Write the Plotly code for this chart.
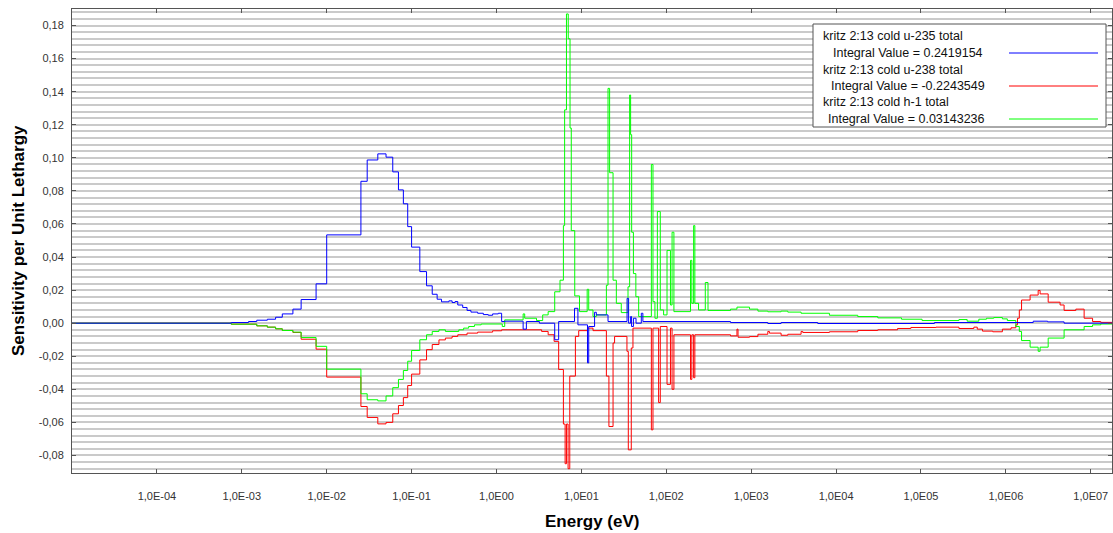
import plotly.graph_objects as go

# Sensitivity per unit lethargy, step data on group energy boundaries (eV)
u235_edges = [1e-5, 7.5e-4, 1.2e-3, 1.5e-3, 2e-3, 2.5e-3, 3e-3, 4e-3, 5e-3, 7.5e-3,
              1e-2, 2.53e-2, 3e-2, 4e-2, 5e-2, 6e-2, 7e-2, 8e-2, 9e-2, 0.1,
              0.125, 0.15, 0.175, 0.2, 0.225, 0.275, 0.3, 0.325, 0.35, 0.4,
              0.45, 0.5, 0.6, 0.7, 0.8, 0.9, 1.05, 1.15, 1.25, 2.06,
              2.25, 3.2, 4.85, 5.4, 8.3, 9.1, 11.8, 12.2, 14.3, 15.0,
              20.6, 34.5, 36.0, 38.0, 39.0, 41.0, 44.0, 50.8, 53.0, 571,
              1570, 2250, 6080, 1.44e5, 2.1e6, 3.1e6, 4.85e6, 2e7]
u235_vals = [0.0, 0.0004, 0.001, 0.0018, 0.0024, 0.0036, 0.0056, 0.0085, 0.0143, 0.0238,
             0.0534, 0.0858, 0.0987, 0.1024, 0.1004, 0.0915, 0.0806, 0.0722, 0.0584, 0.046,
             0.0312, 0.0226, 0.0175, 0.0145, 0.0129, 0.0135, 0.0125, 0.0131, 0.011, 0.0095,
             0.0077, 0.0067, 0.006, 0.0052, 0.0048, 0.0056, 0.006, 0.001, 0.0012, -0.0036,
             0.001, 0.0, -0.01, 0.001, 0.009, -0.001, -0.024, -0.002, 0.0066, 0.005,
             0.001, 0.015, 0.0, 0.004, -0.002, 0.003, 0.0, 0.006, 0.001, 0.0004,
             -0.0002, 0.0004, -0.0002, 0.0004, 0.0012, 0.0008, 0.0, 0.0]

u238_edges = [1e-5, 7.5e-4, 1.5e-3, 2e-3, 2.5e-3, 3e-3, 4e-3, 5e-3, 7.5e-3, 1e-2,
              2.53e-2, 3e-2, 4e-2, 5e-2, 6e-2, 7e-2, 8e-2, 9e-2, 0.1, 0.125,
              0.15, 0.175, 0.21, 0.25, 0.3, 0.35, 0.45, 0.6, 0.9, 1.15,
              3.4, 4.06, 4.77, 5.4, 6.14, 6.43, 6.67, 6.97, 7.3, 8.5,
              9.3, 11.8, 13.7, 19.7, 21.1, 23.6, 24.6, 34.4, 35.7, 38.7,
              40.5, 66.7, 69.7, 81.2, 85.0, 102, 112, 117, 123, 193,
              200, 210, 217, 571, 680, 700, 955, 1200, 1570, 1640,
              2250, 2700, 3870, 4050, 8350, 1.8e4, 3.1e4, 5.3e4, 7.6e4, 1.5e5,
              2.8e5, 4.2e5, 4.6e5, 5.3e5, 7e5, 9.1e5, 1.15e6, 1.31e6, 1.37e6, 1.44e6,
              1.53e6, 1.93e6, 2.4e6, 2.53e6, 3.15e6, 4.35e6, 4.85e6, 6.67e6, 8.35e6, 1.05e7,
              1.31e7, 2e7]
u238_vals = [0.0, -0.0006, -0.0016, -0.0024, -0.0034, -0.0044, -0.0056, -0.0097, -0.0157, -0.0326,
             -0.0504, -0.057, -0.0609, -0.060, -0.0548, -0.0498, -0.045, -0.0377, -0.0308, -0.0222,
             -0.016, -0.0129, -0.0101, -0.009, -0.008, -0.007, -0.006, -0.0054, -0.0046, -0.004,
             -0.005, -0.007, -0.011, -0.028, -0.061, -0.085, -0.061, -0.088, -0.032, -0.008,
             -0.0045, -0.003, -0.0045, -0.032, -0.0625, -0.012, -0.008, -0.017, -0.0766, -0.015,
             -0.003, -0.0645, -0.003, -0.048, -0.002, -0.037, -0.003, -0.040, -0.007, -0.034,
             -0.007, -0.033, -0.007, -0.0077, -0.0036, -0.0085, -0.0081, -0.0067, -0.005, -0.006,
             -0.0073, -0.0067, -0.005, -0.0056, -0.0052, -0.0044, -0.004, -0.0032, -0.0026, -0.0024,
             -0.0032, -0.0024, -0.0036, -0.0048, -0.0052, -0.0036, -0.0028, -0.001, 0.003, 0.008,
             0.014, 0.017, 0.0198, 0.0177, 0.0127, 0.011, 0.0077, 0.0085, 0.003, 0.001,
             0.0005, 0.0]

h1_edges = [1e-5, 7.5e-4, 1.5e-3, 2e-3, 2.5e-3, 3e-3, 4e-3, 5e-3, 7.5e-3, 1e-2,
            2.53e-2, 3e-2, 4e-2, 5e-2, 6e-2, 7e-2, 8e-2, 9e-2, 0.1, 0.125,
            0.15, 0.175, 0.21, 0.25, 0.36, 0.41, 0.47, 0.55, 0.66, 1.17,
            1.25, 2.06, 2.15, 2.96, 3.5, 4.06, 4.85, 5.6, 6.14, 6.35,
            6.67, 7.0, 7.35, 7.6, 8.35, 9.5, 11.7, 12.2, 13.7, 15.0,
            19.7, 20.6, 21.5, 23.6, 25.8, 29.5, 35.4, 37.0, 38.0, 39.1,
            41.0, 43.8, 47.3, 66.7, 69.7, 73.5, 78.5, 85.0, 93.0, 102,
            112, 117, 123, 193, 200, 210, 217, 240, 288, 310,
            571, 680, 955, 1200, 1570, 2250, 2700, 3870, 8350, 1.8e4,
            3.1e4, 5.9e4, 1.03e5, 2.8e5, 3.5e5, 4.8e5, 5.9e5, 7.2e5, 9.1e5, 1.04e6,
            1.31e6, 1.44e6, 1.53e6, 1.93e6, 2.4e6, 2.53e6, 3.15e6, 4.85e6, 8.35e6, 1.05e7,
            1.31e7, 2e7]
h1_vals = [0.0, -0.0006, -0.0016, -0.0024, -0.0034, -0.0044, -0.0054, -0.0087, -0.014, -0.0278,
           -0.0427, -0.0463, -0.047, -0.044, -0.039, -0.034, -0.0286, -0.023, -0.0165, -0.010,
           -0.007, -0.005, -0.004, -0.005, -0.004, -0.003, -0.002, -0.001, -0.0005, -0.002,
           0.002, 0.0056, 0.003, 0.0016, 0.005, 0.007, 0.019, 0.026, 0.059, 0.129,
           0.187, 0.172, 0.118, 0.056, 0.0165, 0.007, 0.0205, 0.008, 0.004, 0.005,
           0.023, 0.142, 0.091, 0.026, 0.012, 0.0064, 0.022, 0.138, 0.114, 0.055,
           0.030, 0.016, 0.004, 0.096, 0.013, 0.003, 0.0675, 0.008, 0.005, 0.044,
           0.011, 0.055, 0.007, 0.038, 0.012, 0.059, 0.012, 0.008, 0.0246, 0.0077,
           0.0085, 0.0097, 0.0085, 0.0073, 0.0069, 0.0073, 0.0067, 0.006, 0.0048, 0.004,
           0.0032, 0.0024, 0.0016, 0.0022, 0.0012, 0.0024, 0.003, 0.0034, 0.0026, 0.0016,
           -0.002, -0.005, -0.0105, -0.0145, -0.017, -0.0145, -0.009, -0.004, -0.002, -0.001,
           -0.0005, 0.0]

series_names = ["kritz 2:13 cold u-235 total",
                "kritz 2:13 cold u-238 total",
                "kritz 2:13 cold h-1 total"]
integral_values = ["0.2419154", "-0.2243549", "0.03143236"]
series_colors = ["#0000ff", "#ff0000", "#00ff00"]

x_tick_vals = [1e-4, 1e-3, 1e-2, 1e-1, 1e0, 1e1, 1e2, 1e3, 1e4, 1e5, 1e6, 1e7]
x_tick_text = ["1,0E-04", "1,0E-03", "1,0E-02", "1,0E-01", "1,0E00", "1,0E01",
               "1,0E02", "1,0E03", "1,0E04", "1,0E05", "1,0E06", "1,0E07"]
y_tick_vals = [-0.08, -0.06, -0.04, -0.02, 0.0, 0.02, 0.04, 0.06, 0.08,
               0.10, 0.12, 0.14, 0.16, 0.18]
y_tick_text = ["-0,08", "-0,06", "-0,04", "-0,02", "0,00", "0,02", "0,04", "0,06",
               "0,08", "0,10", "0,12", "0,14", "0,16", "0,18"]

FONT = "Liberation Sans, Arial, sans-serif"
W, H = 1113, 533
L, R, T, B = 72, 1112, 9, 473   # plot area in pixels


def px(x):
    return (x - L) / (R - L)


def py(y):
    return (B - y) / (B - T)


fig = go.Figure()

series = [(u235_edges, u235_vals), (u238_edges, u238_vals), (h1_edges, h1_vals)]
# draw u-238, then h-1, then u-235 on top
for idx in (1, 2, 0):
    edges, vals = series[idx]
    fig.add_trace(go.Scatter(
        x=edges, y=vals, mode="lines", line_shape="hv",
        line=dict(color=series_colors[idx], width=1),
        name=series_names[idx], showlegend=False, hoverinfo="skip"))

shapes = []
annotations = []

# legend box with sample lines on the right
shapes.append(dict(type="rect", xref="paper", yref="paper",
                   x0=px(813), x1=px(1106), y0=py(127), y1=py(24),
                   line=dict(color="#555555", width=1), fillcolor="white", layer="above"))
row_y = [36, 53, 69.5, 86, 102.5, 119]
value_x = [831, 829, 826]
for i, name in enumerate(series_names):
    annotations.append(dict(xref="paper", yref="paper", x=px(821), y=py(row_y[2 * i]),
                            xanchor="left", yanchor="middle", showarrow=False,
                            text=name, font=dict(family=FONT, size=12.5, color="#111111")))
    annotations.append(dict(xref="paper", yref="paper", x=px(value_x[i]), y=py(row_y[2 * i + 1]),
                            xanchor="left", yanchor="middle", showarrow=False,
                            text="Integral Value = " + integral_values[i],
                            font=dict(family=FONT, size=12.5, color="#111111")))
    shapes.append(dict(type="line", xref="paper", yref="paper",
                       x0=px(1009), x1=px(1098), y0=py(row_y[2 * i + 1]), y1=py(row_y[2 * i + 1]),
                       line=dict(color=series_colors[i], width=1), layer="above"))

# axis titles
annotations.append(dict(xref="paper", yref="paper", x=0.5, y=py(521),
                        xanchor="center", yanchor="middle", showarrow=False,
                        text="<b>Energy (eV)</b>",
                        font=dict(family=FONT, size=17, color="#000000")))
annotations.append(dict(xref="paper", yref="paper", x=px(18), y=0.5,
                        xanchor="center", yanchor="middle", showarrow=False, textangle=-90,
                        text="<b>Sensitivity per Unit Lethargy</b>",
                        font=dict(family=FONT, size=17, color="#000000")))

fig.update_layout(
    width=W, height=H,
    margin=dict(l=L, r=W - R, t=T, b=H - B, pad=0),
    paper_bgcolor="white", plot_bgcolor="white",
    shapes=shapes, annotations=annotations,
    xaxis=dict(type="log", range=[-5, 7.25], tickmode="array",
               tickvals=x_tick_vals, ticktext=x_tick_text,
               ticks="inside", ticklen=4, tickcolor="#555555",
               showline=True, linecolor="#555555", linewidth=1, mirror="ticks",
               showgrid=False, zeroline=False, ticklabelstandoff=13,
               tickfont=dict(family=FONT, size=11, color="#333333")),
    yaxis=dict(range=[-0.0906, 0.19], tickmode="array",
               tickvals=y_tick_vals, ticktext=y_tick_text,
               ticks="inside", ticklen=4, tickcolor="#555555",
               showline=True, linecolor="#555555", linewidth=1, mirror="ticks",
               showgrid=True, gridcolor="#cacaca", gridwidth=2, zeroline=False,
               ticklabelstandoff=5,
               minor=dict(tickmode="linear", tick0=0, dtick=0.004, showgrid=True,
                          gridcolor="#cacaca", gridwidth=2, ticks=""),
               tickfont=dict(family=FONT, size=11, color="#333333")),
)

fig.write_html("out.html")
